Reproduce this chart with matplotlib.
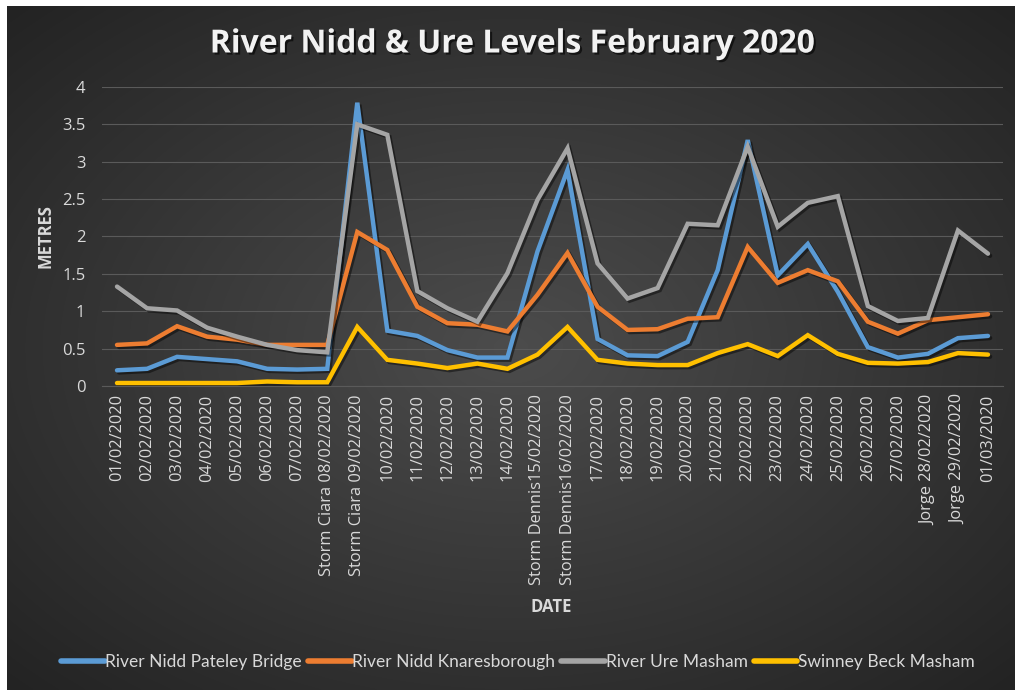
import numpy as np
import matplotlib
matplotlib.use("Agg")
import matplotlib.pyplot as plt
import matplotlib.patheffects as pe

dates = ["01/02/2020", "02/02/2020", "03/02/2020", "04/02/2020", "05/02/2020",
         "06/02/2020", "07/02/2020", "Storm Ciara 08/02/2020", "Storm Ciara 09/02/2020",
         "10/02/2020", "11/02/2020", "12/02/2020", "13/02/2020", "14/02/2020",
         "Storm Dennis15/02/2020", "Storm Dennis16/02/2020", "17/02/2020", "18/02/2020",
         "19/02/2020", "20/02/2020", "21/02/2020", "22/02/2020", "23/02/2020",
         "24/02/2020", "25/02/2020", "26/02/2020", "27/02/2020", "Jorge 28/02/2020",
         "Jorge 29/02/2020", "01/03/2020"]

pateley = [0.21, 0.23, 0.39, 0.36, 0.33, 0.23, 0.22, 0.23, 3.79, 0.74, 0.67, 0.48, 0.38, 0.38,
           1.80, 2.89, 0.63, 0.41, 0.40, 0.59, 1.55, 3.29, 1.48, 1.90, 1.26, 0.52, 0.38, 0.43,
           0.64, 0.67]
knaresborough = [0.55, 0.57, 0.80, 0.66, 0.62, 0.55, 0.55, 0.55, 2.06, 1.82, 1.06, 0.84, 0.82,
                 0.73, 1.22, 1.78, 1.06, 0.75, 0.76, 0.90, 0.92, 1.86, 1.38, 1.55, 1.40, 0.86,
                 0.70, 0.88, 0.92, 0.96]
ure_masham = [1.33, 1.04, 1.01, 0.78, 0.66, 0.55, 0.48, 0.45, 3.50, 3.36, 1.27, 1.04, 0.86, 1.51,
              2.49, 3.18, 1.64, 1.17, 1.31, 2.17, 2.15, 3.20, 2.13, 2.45, 2.54, 1.07, 0.87, 0.91,
              2.08, 1.77]
swinney = [0.04, 0.04, 0.04, 0.04, 0.04, 0.06, 0.05, 0.05, 0.79, 0.35, 0.30, 0.24, 0.30, 0.23,
           0.42, 0.79, 0.35, 0.30, 0.28, 0.28, 0.44, 0.56, 0.40, 0.68, 0.43, 0.31, 0.30, 0.32,
           0.44, 0.42]

series = [
    ("River Nidd Pateley Bridge", pateley, "#5B9BD5"),
    ("River Nidd Knaresborough", knaresborough, "#ED7D31"),
    ("River Ure Masham", ure_masham, "#A5A5A5"),
    ("Swinney Beck Masham", swinney, "#FFC000"),
]

W, H = 1015, 690
fig = plt.figure(figsize=(W / 100, H / 100), dpi=100)
fig.patch.set_facecolor("white")

# Background radial gradient
bg = fig.add_axes([7 / W, 0, 1 - 7 / W, 1 - 6 / H])
bg.set_axis_off()
nx, ny = 400, 300
xx, yy = np.meshgrid(np.linspace(-1, 1, nx), np.linspace(-1, 1, ny))
r = np.sqrt(xx ** 2 + yy ** 2) / np.sqrt(2)
center = np.array([0x4c, 0x4c, 0x4c]) / 255
edge = np.array([0x23, 0x23, 0x23]) / 255
t = np.clip(r, 0, 1)[..., None]
img = center * (1 - t) + edge * t
bg.imshow(img, aspect="auto", extent=[0, 1, 0, 1], interpolation="bilinear")
bg.set_xlim(0, 1)
bg.set_ylim(0, 1)

ax = fig.add_axes([102 / W, 1 - 386 / H, 901 / W, 299 / H])
ax.set_facecolor("none")
x = np.arange(len(dates))
shadow = [pe.SimpleLineShadow(offset=(1.5, -1.5), shadow_color="black", alpha=0.45),
          pe.Normal()]
for name, vals, col in series:
    ax.plot(x, vals, color=col, lw=3.2, label=name, solid_joinstyle="miter",
            solid_capstyle="round", path_effects=shadow, zorder=3)

ax.set_xlim(-0.5, len(dates) - 0.5)
ax.set_ylim(0, 4)
ax.set_yticks(np.arange(0, 4.01, 0.5))
ax.set_yticklabels(["0", "0.5", "1", "1.5", "2", "2.5", "3", "3.5", "4"])
ax.grid(axis="y", color="#5a5a5a", lw=0.8, zorder=0)
ax.set_axisbelow(True)
for s in ax.spines.values():
    s.set_visible(False)
ax.spines["bottom"].set_visible(True)
ax.spines["bottom"].set_color("#5a5a5a")
ax.set_xticks(x)
ax.set_xticklabels(dates, rotation=90, fontsize=11.8, color="#d9d9d9", family="Open Sans")
ax.tick_params(axis="both", length=0, pad=6)
ax.tick_params(axis="y", labelsize=12, labelcolor="#d9d9d9", pad=12)
for lab in ax.get_yticklabels():
    lab.set_family("Open Sans")

fig.text(45 / W, 1 - 236 / H, "METRES", rotation=90, ha="center", va="center",
         fontsize=12, fontweight="bold", color="#d9d9d9", family="Open Sans")
fig.text(551 / W, 1 - 607 / H, "DATE", ha="center", va="center",
         fontsize=12, fontweight="bold", color="#d9d9d9", family="Open Sans")

title = fig.text(513 / W, 1 - 44 / H, "River Nidd & Ure Levels February 2020", ha="center",
                 va="center", fontsize=23, fontweight="bold", color="#f2f2f2",
                 family="Open Sans")
title.set_path_effects([pe.withSimplePatchShadow(offset=(1.5, -1.5), shadow_rgbFace="black",
                                                 alpha=0.6)])

leg = fig.legend(loc="center", bbox_to_anchor=(518 / W, 1 - 662 / H), ncol=4,
                 frameon=False, handlelength=2.5, handletextpad=0.05,
                 columnspacing=0.35, labelcolor="#d9d9d9",
                 prop={"family": "Lato", "size": 12.5})
for h in leg.legend_handles:
    h.set_path_effects([])
    h.set_linewidth(4)

fig.savefig("out.png", dpi=100, facecolor=fig.get_facecolor())
